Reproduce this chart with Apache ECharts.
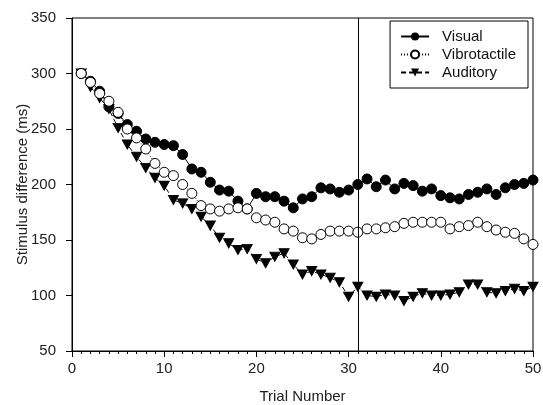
<!DOCTYPE html>
<html>
<head>
<meta charset="utf-8">
<script src="https://cdn.jsdelivr.net/npm/echarts@6/dist/echarts.min.js"></script>
<style>html,body{margin:0;padding:0;background:#fff;}#c{width:543px;height:405px;}</style>
</head>
<body>
<div id="c"></div>
<script>
const trials = Array.from({length: 50}, (_, i) => i + 1);
const visual = [300,293,284,270,264,254,248,241,238,236,235,227,214,211,202,195,194,185,178,192,
  189,189,185,179,187,189,197,196,193,195,200,205,198,204,196,201,199,194,196,190,
  188,187,191,193,196,191,197,200,201,204];
const vibrotactile = [300,292,282,275,265,250,242,232,219,211,208,200,192,181,178,176,178,179,178,170,
  168,166,160,158,152,151,155,158,158,158,157,160,160,161,162,165,166,166,166,166,
  160,162,163,166,162,159,157,156,151,146];
const auditory = [300,288,278,268,251,236,225,215,206,199,186,183,178,171,163,152,147,141,142,133,
  129,135,138,128,119,122,119,116,112,99,108,100,99,101,100,95,99,102,100,100,
  101,103,110,110,103,102,104,106,104,108];
const seriesNames = ['Visual', 'Vibrotactile', 'Auditory'];
const markerX = [31];
const xTicks = [0, 10, 20, 30, 40, 50];
const yTicks = [50, 100, 150, 200, 250, 300, 350];

const font = 'Liberation Sans, Arial, sans-serif';
const chart = echarts.init(document.getElementById('c'), null, {renderer: 'canvas'});
const pair = arr => trials.map((t, i) => [t, arr[i]]);
const downTri = 'path://M0,0 L10,0 L5,9 Z';

chart.setOption({
  animation: false,
  backgroundColor: '#fff',
  grid: {left: 72, right: 10, top: 18, bottom: 54, containLabel: false, outerBoundsMode: 'none',
    show: true, borderColor: '#000', borderWidth: 1, backgroundColor: 'transparent'},
  legend: {
    right: 15, top: 21,
    orient: 'vertical',
    data: seriesNames,
    itemWidth: 28, itemHeight: 10, itemGap: 3,
    borderColor: '#000', borderWidth: 1,
    padding: [8, 12, 8, 10],
    backgroundColor: '#fff',
    textStyle: {fontFamily: font, fontSize: 15, color: '#111', padding: [0, 0, 0, 8]}
  },
  xAxis: {
    type: 'value', min: xTicks[0], max: xTicks[xTicks.length - 1], interval: 10,
    name: 'Trial Number', nameLocation: 'middle', nameGap: 38, nameMoveOverlap: false,
    nameTextStyle: {fontFamily: font, fontSize: 15, color: '#222'},
    axisLine: {lineStyle: {color: '#000', width: 1}},
    axisTick: {show: true, inside: false, length: 6, lineStyle: {color: '#000'}},
    minorTick: {show: true, splitNumber: 10, length: 3, lineStyle: {color: '#000'}},
    axisLabel: {fontFamily: font, fontSize: 15, color: '#222', margin: 10},
    splitLine: {show: false}
  },
  yAxis: {
    type: 'value', min: yTicks[0], max: yTicks[yTicks.length - 1], interval: 50,
    name: 'Stimulus difference (ms)', nameLocation: 'middle', nameGap: 42, nameMoveOverlap: false,
    nameTextStyle: {fontFamily: font, fontSize: 15, color: '#222'},
    axisLine: {show: true, lineStyle: {color: '#000', width: 1}},
    axisTick: {show: true, inside: false, length: 6, lineStyle: {color: '#000'}},
    axisLabel: {fontFamily: font, fontSize: 15, color: '#222', margin: 16},
    splitLine: {show: false}
  },
  series: [
    {
      name: 'Auditory', type: 'line', z: 2, data: pair(auditory),
      symbol: downTri, symbolSize: [10, 9], showAllSymbol: true,
      lineStyle: {color: '#000', width: 1, type: [5, 3]},
      itemStyle: {color: '#000', borderColor: '#000'},
      markLine: {
        silent: true, symbol: 'none', label: {show: false},
        lineStyle: {color: '#000', width: 1, type: 'solid'},
        data: markerX.map(v => ({xAxis: v}))
      }
    },
    {
      name: 'Visual', type: 'line', z: 3, data: pair(visual),
      symbol: 'circle', symbolSize: 10, showAllSymbol: true,
      lineStyle: {color: '#000', width: 1},
      itemStyle: {color: '#000', borderColor: '#000'}
    },
    {
      name: 'Vibrotactile', type: 'line', z: 4, data: pair(vibrotactile),
      symbol: 'circle', symbolSize: 10, showAllSymbol: true,
      lineStyle: {color: '#000', width: 1, type: [1, 2]},
      itemStyle: {color: '#fff', borderColor: '#000', borderWidth: 1}
    }
  ]
});
</script>
</body>
</html>
